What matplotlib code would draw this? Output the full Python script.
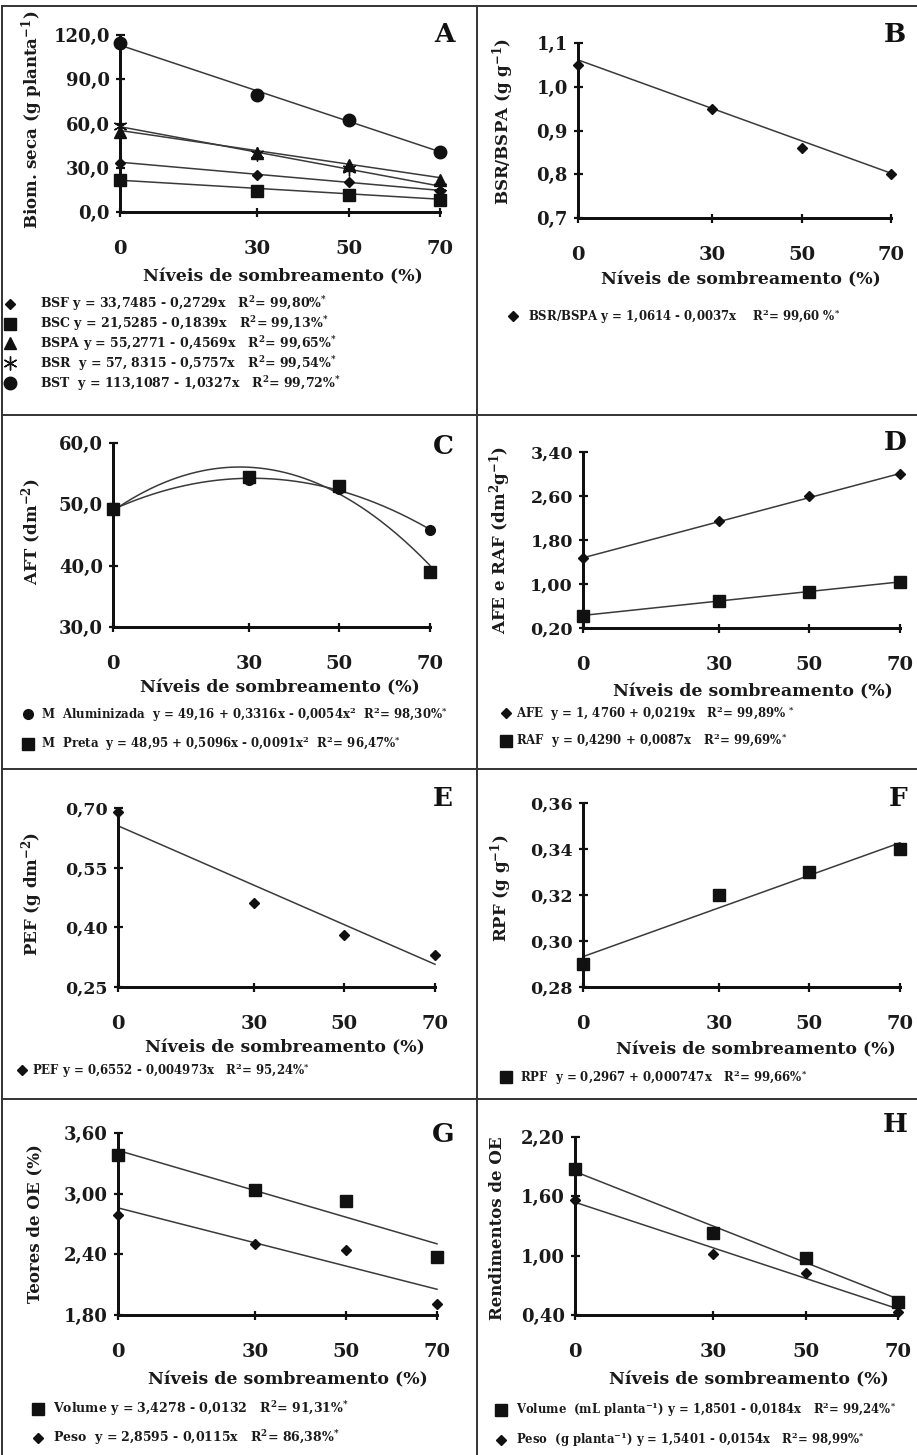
import numpy as np
import matplotlib
matplotlib.use("Agg")
import matplotlib.pyplot as plt
from matplotlib.lines import Line2D

plt.rcParams['font.family'] = ['DejaVu Serif']
plt.rcParams['font.weight'] = 'bold'
plt.rcParams['mathtext.fontset'] = 'dejavuserif'
plt.rcParams['mathtext.default'] = 'bf'

W, H = 917, 1455
fig = plt.figure(figsize=(W / 100, H / 100), dpi=100)

# ---------------- data ----------------
x_levels = [0, 30, 50, 70]
x_tick_labels = ["0", "30", "50", "70"]
x_label = "Níveis de sombreamento (%)"

# Panel A - dry biomass (g planta-1)
bsf = [33.0, 25.0, 20.5, 14.5]
bsc = [21.5, 14.5, 11.5, 8.0]
bspa = [54.5, 40.0, 32.0, 22.0]
bsr = [58.0, 39.0, 29.0, 17.0]
bst = [114.5, 79.5, 62.5, 41.0]
fit_a = {"BSF": [33.7485, -0.2729], "BSC": [21.5285, -0.1839],
         "BSPA": [55.2771, -0.4569], "BSR": [57.8315, -0.5757],
         "BST": [113.1087, -1.0327]}
# Panel B
bsr_bspa = [1.05, 0.95, 0.86, 0.80]
fit_b = [1.0614, -0.0037]
# Panel C - AFT
m_alum = [49.3, 54.0, 52.5, 45.8]
m_preta = [49.2, 54.5, 53.0, 39.0]
fit_alum = [49.16, 0.3316, -0.0054]
fit_preta = [48.95, 0.5096, -0.0091]
# Panel D
afe = [1.48, 2.15, 2.60, 3.00]
raf = [0.42, 0.69, 0.85, 1.03]
fit_afe = [1.4760, 0.0219]
fit_raf = [0.4290, 0.0087]
# Panel E
pef = [0.69, 0.46, 0.38, 0.33]
fit_pef = [0.6552, -0.004973]
# Panel F
rpf = [0.29, 0.32, 0.33, 0.34]
fit_rpf = [0.2932, 0.000707]
# Panel G
teor_vol = [3.38, 3.04, 2.93, 2.37]
teor_peso = [2.79, 2.50, 2.44, 1.91]
fit_teor_vol = [3.4278, -0.0132]
fit_teor_peso = [2.8595, -0.0115]
# Panel H
rend_vol = [1.88, 1.23, 0.98, 0.53]
rend_peso = [1.56, 1.02, 0.82, 0.43]
fit_rend_vol = [1.8501, -0.0184]
fit_rend_peso = [1.5401, -0.0154]

# ---------------- helpers ----------------
PT = 72 / 100.0  # points per pixel
LINE_C = "#3a3a3a"
MK_C = "#111111"
TXT_C = "#1a1a1a"


def make_ax(l, t, r, b, ylim, yticks, yticklabels, ytick_fs=12.5):
    ax = fig.add_axes([l / W, 1 - b / H, (r - l) / W, (b - t) / H])
    ax.set_xlim(0, 70)
    ax.set_ylim(*ylim)
    for s in ("top", "right"):
        ax.spines[s].set_visible(False)
    for s in ("left", "bottom"):
        ax.spines[s].set_linewidth(3 * PT)
        ax.spines[s].set_color("#111111")
    ax.set_xticks(x_levels)
    ax.set_xticklabels(x_tick_labels, fontsize=14, color=TXT_C)
    ax.set_yticks(yticks)
    ax.set_yticklabels(yticklabels, fontsize=ytick_fs, color=TXT_C)
    ax.tick_params(axis="both", direction="inout", length=9 * PT, width=2.2 * PT, color="#111111")
    ax.tick_params(axis="x", pad=17)
    ax.tick_params(axis="y", pad=4)
    ax.patch.set_alpha(0)
    return ax


def fit_line(ax, coefs):
    xs = np.linspace(0, 70, 200)
    ys = np.polyval(coefs[::-1], xs)
    ax.plot(xs, ys, color=LINE_C, lw=1.1, zorder=2, clip_on=False)


def pts(ax, ys, marker, ms, label):
    (h,) = ax.plot(x_levels, ys, linestyle="none", marker=marker, ms=ms, color=MK_C,
                   mec=MK_C, clip_on=False, zorder=4, label=label)
    return h


def legend(ax, handles, labels, mx, tx, y0, dy, fs=9.0):
    fpx = fs / PT
    x0 = mx - fpx / 2
    pad = (tx - (x0 + fpx)) / fpx
    rowh = fpx * 1.25
    top = y0 - rowh / 2
    spacing = max((dy - rowh) / fpx, 0)
    ax.legend(handles, labels, loc="upper left", bbox_to_anchor=(x0 / W, 1 - top / H),
              bbox_transform=fig.transFigure, frameon=False, borderpad=0, borderaxespad=0,
              handlelength=1.0, handletextpad=pad, labelspacing=spacing, fontsize=fs,
              labelcolor=TXT_C)


def texts(ylab, yx, yy, xx, xy, letter, lx, ly, yfs=12):
    fig.text(yx / W, 1 - yy / H, ylab, rotation=90, ha="center", va="center", fontsize=yfs, color=TXT_C)
    fig.text(xx / W, 1 - xy / H, x_label, ha="center", va="center", fontsize=12.5, color=TXT_C)
    fig.text(lx / W, 1 - ly / H, letter, ha="center", va="center", fontsize=19, color="#111111")


R2 = "R$^{2}$= "
ST = "$^{*}$"

# ---------------- Panel A ----------------
ax = make_ax(120, 35, 440, 212, (0, 120), [0, 30, 60, 90, 120],
             ["0,0", "30,0", "60,0", "90,0", "120,0"], ytick_fs=13)
for k in fit_a:
    fit_line(ax, fit_a[k])
hA = [pts(ax, bsf, "D", 5, "BSF"), pts(ax, bsc, "s", 8, "BSC"),
      pts(ax, bspa, "^", 8, "BSPA"), pts(ax, bsr, (6, 2, 0), 10, "BSR"),
      pts(ax, bst, "o", 9, "BST")]
legend(ax, hA, ["BSF y = 33,7485 - 0,2729x   " + R2 + "99,80%" + ST,
                "BSC y = 21,5285 - 0,1839x   " + R2 + "99,13%" + ST,
                "BSPA y = 55,2771 - 0,4569x   " + R2 + "99,65%" + ST,
                "BSR  y = 57, 8315 - 0,5757x   " + R2 + "99,54%" + ST,
                "BST  y = 113,1087 - 1,0327x   " + R2 + "99,72%" + ST],
       10, 40, 302, 16.6)
texts("Biom. seca (g planta$^{-1}$)", 32, 120, 283, 277, "A", 445, 35)

# ---------------- Panel B ----------------
ax = make_ax(578, 43, 891, 218, (0.7, 1.1), [0.7, 0.8, 0.9, 1.0, 1.1],
             ["0,7", "0,8", "0,9", "1,0", "1,1"], ytick_fs=13)
fit_line(ax, fit_b)
hB = [pts(ax, bsr_bspa, "D", 5, "BSR/BSPA")]
legend(ax, hB, ["BSR/BSPA y = 1,0614 - 0,0037x    " + R2 + "99,60 %" + ST], 513, 528, 314, 20, fs=8.5)
texts("BSR/BSPA (g g$^{-1}$)", 503, 122, 741, 280, "B", 895, 35)

# ---------------- Panel C ----------------
ax = make_ax(113, 443, 430, 627, (30, 60), [30, 40, 50, 60],
             ["30,0", "40,0", "50,0", "60,0"], ytick_fs=13)
fit_line(ax, fit_alum)
fit_line(ax, fit_preta)
hC = [pts(ax, m_alum, "o", 7, "M Aluminizada"), pts(ax, m_preta, "s", 8, "M Preta")]
legend(ax, hC, ["M  Aluminizada  y = 49,16 + 0,3316x - 0,0054x$^{2}$  " + R2 + "98,30%" + ST,
                "M  Preta  y = 48,95 + 0,5096x - 0,0091x$^{2}$  " + R2 + "96,47%" + ST],
       28, 41, 712, 25, fs=8.5)
texts("AFT (dm$^{-2}$)", 32, 532, 280, 688, "C", 443, 447)

# ---------------- Panel D ----------------
ax = make_ax(583, 452, 900, 628, (0.2, 3.4), [0.2, 1.0, 1.8, 2.6, 3.4],
             ["0,20", "1,00", "1,80", "2,60", "3,40"])
fit_line(ax, fit_afe)
fit_line(ax, fit_raf)
hD = [pts(ax, afe, "D", 5, "AFE"), pts(ax, raf, "s", 9, "RAF")]
legend(ax, hD, ["AFE  y = 1, 4760 + 0,0219x   " + R2 + "99,89% " + ST,
                "RAF  y = 0,4290 + 0,0087x   " + R2 + "99,69%" + ST],
       506, 516, 711, 23.5, fs=8.5)
texts("AFE e RAF (dm$^{2}$g$^{-1}$)", 500, 540, 753, 692, "D", 895, 443)

# ---------------- Panel E ----------------
ax = make_ax(118, 808, 435, 987, (0.25, 0.70), [0.25, 0.40, 0.55, 0.70],
             ["0,25", "0,40", "0,55", "0,70"])
fit_line(ax, fit_pef)
hE = [pts(ax, pef, "D", 5, "PEF")]
legend(ax, hE, ["PEF y = 0,6552 - 0,004973x   " + R2 + "95,24%" + ST], 22, 32, 1068, 20, fs=8.5)
texts("PEF (g dm$^{-2}$)", 32, 894, 285, 1048, "E", 443, 798)

# ---------------- Panel F ----------------
ax = make_ax(583, 803, 900, 987, (0.28, 0.36), [0.28, 0.30, 0.32, 0.34, 0.36],
             ["0,28", "0,30", "0,32", "0,34", "0,36"])
fit_line(ax, fit_rpf)
hF = [pts(ax, rpf, "s", 9, "RPF")]
legend(ax, hF, ["RPF  y = 0,2967 + 0,000747x   " + R2 + "99,66%" + ST], 506, 520, 1075, 20, fs=8.5)
texts("RPF (g g$^{-1}$)", 501, 888, 756, 1050, "F", 898, 798)

# ---------------- Panel G ----------------
ax = make_ax(118, 1133, 437, 1315, (1.8, 3.6), [1.8, 2.4, 3.0, 3.6],
             ["1,80", "2,40", "3,00", "3,60"], ytick_fs=13)
fit_line(ax, fit_teor_vol)
fit_line(ax, fit_teor_peso)
hG = [pts(ax, teor_vol, "s", 9, "Volume"), pts(ax, teor_peso, "D", 5, "Peso")]
legend(ax, hG, ["Volume y = 3,4278 - 0,0132   " + R2 + "91,31%" + ST,
                "Peso  y = 2,8595 - 0,0115x   " + R2 + "86,38%" + ST],
       38, 53, 1407, 26, fs=9)
texts("Teores de OE (%)", 35, 1224, 288, 1380, "G", 443, 1135)

# ---------------- Panel H ----------------
ax = make_ax(575, 1137, 898, 1315, (0.4, 2.2), [0.4, 1.0, 1.6, 2.2],
             ["0,40", "1,00", "1,60", "2,20"], ytick_fs=13)
fit_line(ax, fit_rend_vol)
fit_line(ax, fit_rend_peso)
hH = [pts(ax, rend_vol, "s", 9, "Volume"), pts(ax, rend_peso, "D", 5, "Peso")]
legend(ax, hH, ["Volume  (mL planta$^{-1}$) y = 1,8501 - 0,0184x   " + R2 + "99,24%" + ST,
                "Peso  (g planta$^{-1}$) y = 1,5401 - 0,0154x   " + R2 + "98,99%" + ST],
       501, 516, 1407, 26, fs=8.4)
texts("Rendimentos de OE", 498, 1228, 749, 1380, "H", 895, 1125)

# ---------------- panel frame lines ----------------
def fline(x0, y0, x1, y1):
    fig.add_artist(Line2D([x0 / W, x1 / W], [1 - y0 / H, 1 - y1 / H], transform=fig.transFigure,
                          color="#333333", lw=1.4))

fline(2, 6, 917, 6)
fline(2, 6, 2, 1455)
fline(477, 6, 477, 1455)
for yy in (415, 769, 1099):
    fline(2, yy, 917, yy)

fig.savefig("out.png", dpi=100)
